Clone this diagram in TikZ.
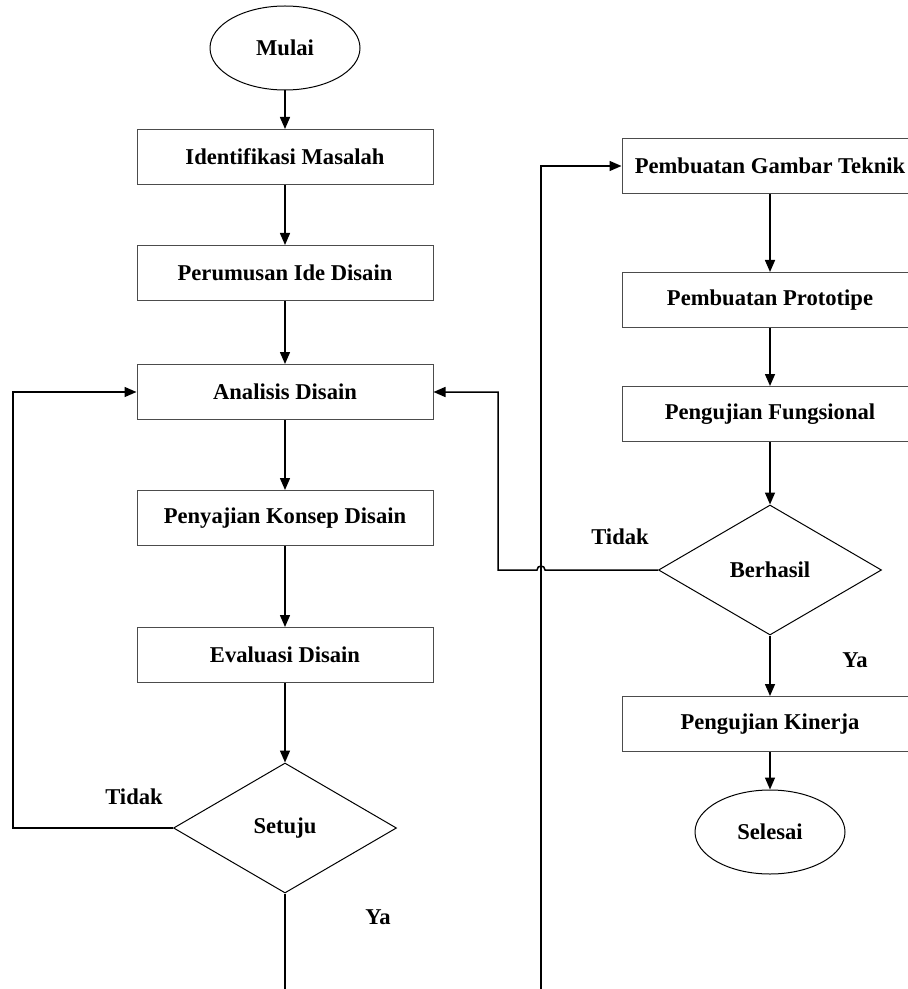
\documentclass[tikz,border=0pt]{standalone}
\usepackage{fontspec}
\setmainfont{Liberation Serif}
\usetikzlibrary{arrows.meta,shapes.geometric}

\begin{document}
\begin{tikzpicture}[x=0.5pt, y=-0.5pt, ->, >={Triangle[length=6pt,width=5pt]}, line width=0.75pt,
  font=\fontsize{11.3}{13}\selectfont\bfseries]
\tikzstyle{proses}=[rectangle, draw=black!70, line width=0.5pt, minimum width=148pt, minimum height=27.5pt]
\tikzstyle{terminal}=[ellipse, draw=black, line width=0.5pt, minimum width=75pt, minimum height=42pt, inner sep=0pt]
\tikzstyle{keputusan}=[diamond, draw=black, line width=0.5pt, minimum width=111.5pt, minimum height=65pt, aspect=1.7, inner sep=0pt]
\useasboundingbox (0,0) rectangle (908,989);
% kolom kiri
\node[terminal]  (mulai)     at (285,48)  {Mulai};
\node[proses]    (identif)   at (285,157) {Identifikasi Masalah};
\node[proses]    (perumusan) at (285,273) {Perumusan Ide Disain};
\node[proses]    (analisis)  at (285,392) {Analisis Disain};
\node[proses]    (penyajian) at (285,518) {Penyajian Konsep Disain};
\node[proses]    (evaluasi)  at (285,655) {Evaluasi Disain};
\node[keputusan] (setuju)    at (285,828) {Setuju};
% kolom kanan
\node[proses]    (gambar)    at (770,166) {Pembuatan Gambar Teknik};
\node[proses]    (prototipe) at (770,300) {Pembuatan Prototipe};
\node[proses]    (fungsi)    at (770,414) {Pengujian Fungsional};
\node[keputusan] (berhasil)  at (770,570) {Berhasil};
\node[proses]    (kinerja)   at (770,724) {Pengujian Kinerja};
\node[terminal]  (selesai)   at (770,832) {Selesai};
% label
\node (tidakkiri)  at (134,797) {Tidak};
\node (yakiri)     at (378,917) {Ya};
\node (tidakkanan) at (620,537) {Tidak};
\node (yakanan)    at (855,660) {Ya};
\coordinate (bawahkiri)  at (285,995);
\coordinate (bawahkanan) at (541,995);

\path
(mulai)     edge (identif)
(identif)   edge (perumusan)
(perumusan) edge (analisis)
(analisis)  edge (penyajian)
(penyajian) edge (evaluasi)
(evaluasi)  edge (setuju)
(gambar)    edge (prototipe)
(prototipe) edge (fungsi)
(fungsi)    edge (berhasil)
(berhasil)  edge (kinerja)
(kinerja)   edge (selesai);
\draw (setuju.west) -- ++(-160,0) |- (analisis.west);
\draw[-] (setuju.south) -- (bawahkiri);
\draw (bawahkanan) |- (gambar.west);
\draw (berhasil.west) -- (545,570) .. controls (545,564.7) and (537,564.7) .. (537,570)
  -- (498,570) |- (analisis.east);
\end{tikzpicture}
\end{document}
